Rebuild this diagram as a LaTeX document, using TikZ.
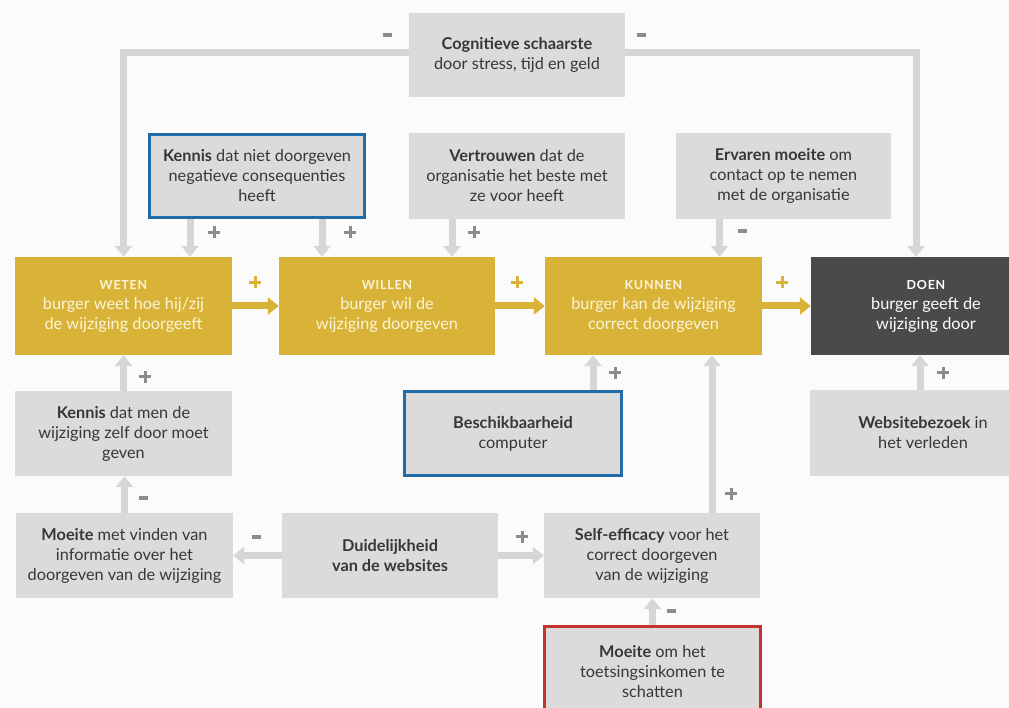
\documentclass[tikz,border=0pt]{standalone}
\usepackage{fontspec}
\setmainfont{Lato}
\usetikzlibrary{arrows.meta, positioning}
\definecolor{mygold}{RGB}{216,179,56}
\definecolor{goudtekst}{RGB}{252,244,214}
\definecolor{vakgrijs}{RGB}{219,219,219}
\definecolor{pijlgrijs}{RGB}{214,214,214}
\definecolor{tekstgrijs}{RGB}{55,55,55}
\definecolor{tekengrijs}{RGB}{140,140,140}
\definecolor{donker}{RGB}{74,74,74}
\definecolor{myblue}{RGB}{33,108,168}
\definecolor{myred}{RGB}{196,52,42}
\definecolor{achtergrond}{RGB}{251,251,251}

\newcommand{\kop}[1]{{\fontsize{12.5}{20}\selectfont\bfseries\addfontfeature{LetterSpace=6}#1}}
\newcommand{\minteken}{\rule[4pt]{9pt}{3.5pt}}
\newcommand{\plusteken}{\rule[5.5pt]{12pt}{3pt}\hspace{-7.5pt}\rule[1pt]{3pt}{12pt}\hspace{4.5pt}}

\tikzset{
  vak/.style={fill=vakgrijs, text=tekstgrijs, align=center, inner sep=0pt,
    font=\fontsize{16.3}{20}\selectfont},
  goudvak/.style={vak, fill=mygold, text=goudtekst},
  blauwvak/.style={vak, draw=myblue, line width=3pt},
  roodvak/.style={vak, draw=myred, line width=3pt},
  pijl/.style={line width=7pt, draw=pijlgrijs, -{Triangle[width=17pt,length=11pt]}},
  goudpijl/.style={pijl, draw=mygold},
  teken/.style={inner sep=0pt, text=tekengrijs, font=\fontsize{14}{14}\selectfont},
  goudteken/.style={teken, text=mygold},
}

\begin{document}
\begin{tikzpicture}[x=1pt, y=-1pt]
\fill[achtergrond] (0,0) rectangle (1009,708);
\useasboundingbox (0,0) rectangle (1009,708);

%%%%%%%%%% top row
\node[vak, minimum width=216pt, minimum height=84pt] (schaarste) at (517,55)
  {\textbf{Cognitieve schaarste}\\door stress, tijd en geld};
\node[blauwvak, minimum width=215pt, minimum height=83pt] (kennisneg) at (257,176)
  {\textbf{Kennis} dat niet doorgeven\\negatieve consequenties\\heeft};
\node[vak, minimum width=216pt, minimum height=86pt] (vertrouwen) at (517,176)
  {\textbf{Vertrouwen} dat de\\organisatie het beste met\\ze voor heeft};
\node[vak, minimum width=215pt, minimum height=86pt] (ervaren) at (783.5,176)
  {\textbf{Ervaren moeite} om\\contact op te nemen\\met de organisatie};

%%%%%%%%%% main row
\node[goudvak, minimum width=217pt, minimum height=98pt] (weten) at (123.5,306)
  {\kop{WETEN}\\burger weet hoe hij/zij\\de wijziging doorgeeft};
\node[goudvak, minimum width=216pt, minimum height=98pt] (willen) at (387,306)
  {\kop{WILLEN}\\burger wil de\\wijziging doorgeven};
\node[goudvak, minimum width=217pt, minimum height=98pt] (kunnen) at (653.5,306)
  {\kop{KUNNEN}\\burger kan de wijziging\\correct doorgeven};
\node[goudvak, fill=donker, text=white, minimum width=230pt, minimum height=98pt] (doen) at (926,306)
  {\kop{DOEN}\\burger geeft de\\wijziging door};

%%%%%%%%%% lower rows
\node[vak, minimum width=217pt, minimum height=85pt] (kennismen) at (123.5,433.5)
  {\textbf{Kennis} dat men de\\wijziging zelf door moet\\geven};
\node[blauwvak, minimum width=217pt, minimum height=84pt] (beschikbaar) at (513,433.5)
  {\textbf{Beschikbaarheid}\\computer};
\node[vak, minimum width=226pt, minimum height=86pt] (website) at (923,433)
  {\textbf{Websitebezoek} in\\het verleden};

\node[vak, minimum width=217pt, minimum height=85pt] (moeitevinden) at (124.5,555.5)
  {\textbf{Moeite} met vinden van\\informatie over het\\doorgeven van de wijziging};
\node[vak, minimum width=216pt, minimum height=85pt] (duidelijk) at (390,555.5)
  {\textbf{Duidelijkheid}\\\textbf{van de websites}};
\node[vak, minimum width=216pt, minimum height=85pt] (selfeff) at (652,555.5)
  {\textbf{Self-efficacy} voor het\\correct doorgeven\\van de wijziging};
\node[roodvak, minimum width=216pt, minimum height=92pt] (moeiteschat) at (652.5,672)
  {\textbf{Moeite} om het\\toetsingsinkomen te\\schatten};

%%%%%%%%%% connectors
\draw[pijl] ([yshift=2pt]schaarste.west) -| (weten.north);
\draw[pijl] ([yshift=2pt]schaarste.east) -| ([xshift=-10pt]doen.north);
\draw[pijl] ([xshift=-67pt]kennisneg.south) -- ([xshift=-67pt]kennisneg.south |- weten.north);
\draw[pijl] ([xshift=65pt]kennisneg.south) -- ([xshift=65pt]kennisneg.south |- willen.north);
\draw[pijl] ([xshift=-65pt]vertrouwen.south) -- ([xshift=-65pt]vertrouwen.south |- willen.north);
\draw[pijl] ([xshift=-64pt]ervaren.south) -- ([xshift=-64pt]ervaren.south |- kunnen.north);

\draw[goudpijl] (weten) -- (willen);
\draw[goudpijl] (willen) -- (kunnen);
\draw[goudpijl] (kunnen) -- (doen);

\draw[pijl] (kennismen) -- (weten);
\draw[pijl] ([xshift=80pt]beschikbaar.north) -- ([xshift=80pt]beschikbaar.north |- kunnen.south);
\draw[pijl] ([xshift=-3pt]website.north) -- ([xshift=-3pt]website.north |- doen.south);
\draw[pijl] (moeitevinden.north) -- (moeitevinden.north |- kennismen.south);
\draw[pijl] (duidelijk) -- (moeitevinden);
\draw[pijl] (duidelijk) -- (selfeff);
\draw[pijl] ([xshift=60pt]selfeff.north) -- ([xshift=60pt]selfeff.north |- kunnen.south);
\draw[pijl] (moeiteschat.north) -- (moeiteschat.north |- selfeff.south);

%%%%%%%%%% signs
\node[teken] (t1) at (387,37) {\minteken};
\node[teken] (t2) at (641,37) {\minteken};
\node[teken] (t3) at (212,233) {\plusteken};
\node[teken] (t4) at (348,233) {\plusteken};
\node[teken] (t5) at (472,233) {\plusteken};
\node[teken] (t6) at (742,233) {\minteken};
\node[goudteken] (t7) at (253,283) {\plusteken};
\node[goudteken] (t8) at (515,283) {\plusteken};
\node[goudteken] (t9) at (780,283) {\plusteken};
\node[teken] (t10) at (143,377) {\plusteken};
\node[teken] (t11) at (613,373) {\plusteken};
\node[teken] (t12) at (941,373) {\plusteken};
\node[teken] (t13) at (143,500) {\minteken};
\node[teken] (t14) at (256,539) {\minteken};
\node[teken] (t15) at (520,537) {\plusteken};
\node[teken] (t16) at (729,494) {\plusteken};
\node[teken] (t17) at (671,613) {\minteken};
\end{tikzpicture}
\end{document}
